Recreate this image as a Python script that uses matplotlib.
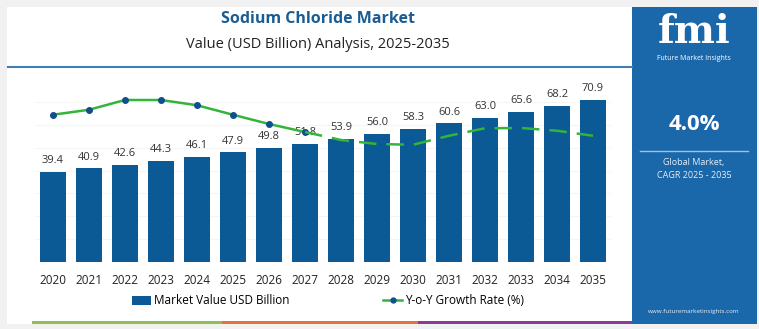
import matplotlib.pyplot as plt
from matplotlib.patches import Rectangle
from matplotlib.lines import Line2D

plt.rcParams['font.family'] = ['Open Sans', 'DejaVu Sans']

years = ['2020', '2021', '2022', '2023', '2024', '2025', '2026', '2027',
         '2028', '2029', '2030', '2031', '2032', '2033', '2034', '2035']
market_value = [39.4, 40.9, 42.6, 44.3, 46.1, 47.9, 49.8, 51.8,
                53.9, 56.0, 58.3, 60.6, 63.0, 65.6, 68.2, 70.9]
yoy_growth = [3.91, 4.11, 4.50, 4.50, 4.29, 3.91, 3.54, 3.22,
              2.90, 2.74, 2.71, 3.07, 3.37, 3.38, 3.27, 3.07]
cagr = '4.0%'

bar_color = '#0b5a95'
line_color = '#33b43a'
marker_color = '#0f4f8c'
panel_blue = '#1a67aa'
W, H = 759, 329

fig = plt.figure(figsize=(W / 100, H / 100), dpi=100)
fig.patch.set_facecolor('#f1f1f1')

def px(x, y, w, h):
    # pixel box (top-left origin) -> figure fraction
    return [x / W, 1 - (y + h) / H, w / W, h / H]

# white card + right panel
fig.add_artist(Rectangle((7 / W, 1 - 324 / H), 625 / W, 317 / H,
                         transform=fig.transFigure, facecolor='white', edgecolor='none', zorder=0))
fig.add_artist(Rectangle((632 / W, 1 - 324 / H), 125 / W, 317 / H,
                         transform=fig.transFigure, facecolor=panel_blue, edgecolor='none', zorder=0))

# title block
fig.text(318 / W, 1 - 19 / H, 'Sodium Chloride Market', ha='center', va='center',
         fontsize=11.5, fontweight='bold', color='#1b5d93')
fig.text(318 / W, 1 - 44 / H, 'Value (USD Billion) Analysis, 2025-2035', ha='center', va='center',
         fontsize=10.5, color='#222222')
fig.add_artist(Line2D([8 / W, 632 / W], [1 - 67 / H, 1 - 67 / H], transform=fig.transFigure,
                      color='#3f7fb5', lw=1.5))

# bottom stripe
for x0, x1, c in [(32, 222, '#8cc152'), (222, 418, '#e8703a'), (418, 632, '#8e3b98')]:
    fig.add_artist(Rectangle((x0 / W, 1 - 324 / H), (x1 - x0) / W, 3 / H,
                             transform=fig.transFigure, facecolor=c, edgecolor='none'))

# main chart
ax = fig.add_axes(px(35, 79, 576, 183))
x = list(range(len(years)))
ax.bar(x, market_value, width=0.7, color=bar_color, zorder=2)
for xi, v in zip(x, market_value):
    ax.text(xi, v + 2.5, f'{v:.1f}', ha='center', va='bottom', fontsize=8, color='#333333', zorder=5)
ax.set_xlim(-0.5, 15.5)
ax.set_ylim(0, 80)
ax.set_yticks([10, 20, 30, 40, 50, 60, 70])
ax.yaxis.grid(True, color='#f5f5f5', lw=0.8, zorder=0)
ax.set_yticklabels([])
ax.tick_params(axis='y', length=0)
ax.set_xticks(x)
ax.set_xticklabels(years, fontsize=8.5, color='#222222')
ax.tick_params(axis='x', length=0, pad=9)
for s in ax.spines.values():
    s.set_visible(False)

ax2 = ax.twinx()
ax2.set_ylim(-1.98, 5.34)
ax2.plot(x[:8], yoy_growth[:8], color=line_color, lw=1.8, marker='o', markersize=4,
         markerfacecolor=marker_color, markeredgecolor=marker_color, zorder=4)
ax2.plot(x[7:], yoy_growth[7:], color=line_color, lw=1.8, dashes=(7, 4), zorder=4)
ax2.set_yticks([])
for s in ax2.spines.values():
    s.set_visible(False)

# legend
handles = [Rectangle((0, 0), 1, 1, facecolor=bar_color),
           Line2D([0], [0], color=line_color, lw=1.8, marker='o', markersize=3.5,
                  markerfacecolor=marker_color, markeredgecolor=marker_color)]
fig.legend(handles, ['Market Value USD Billion', 'Y-o-Y Growth Rate (%)'],
           loc='center', bbox_to_anchor=(328 / W, 1 - 301 / H), ncol=2, frameon=False,
           fontsize=8.5, handlelength=1.6, handletextpad=0.2, columnspacing=8)

# right panel text
fig.text(694 / W, 1 - 32 / H, 'fmi', ha='center', va='center', fontsize=28,
         fontweight='bold', family='DejaVu Serif', color='white')
fig.text(694 / W, 1 - 59 / H, 'Future Market Insights', ha='center', va='center',
         fontsize=5, color='white')
fig.text(694 / W, 1 - 125 / H, cagr, ha='center', va='center', fontsize=16,
         fontweight='bold', color='white')
fig.add_artist(Line2D([640 / W, 748 / W], [1 - 151 / H, 1 - 151 / H], transform=fig.transFigure,
                      color='#9cc3e6', lw=1))
fig.text(694 / W, 1 - 163 / H, 'Global Market,', ha='center', va='center', fontsize=6.5, color='#e6eef7')
fig.text(694 / W, 1 - 176 / H, 'CAGR 2025 - 2035', ha='center', va='center', fontsize=6.5, color='#e6eef7')
fig.text(694 / W, 1 - 312 / H, 'www.futuremarketinsights.com', ha='center', va='center',
         fontsize=4.5, color='#e6eef7')

fig.savefig('out.png', dpi=100, facecolor=fig.get_facecolor())
